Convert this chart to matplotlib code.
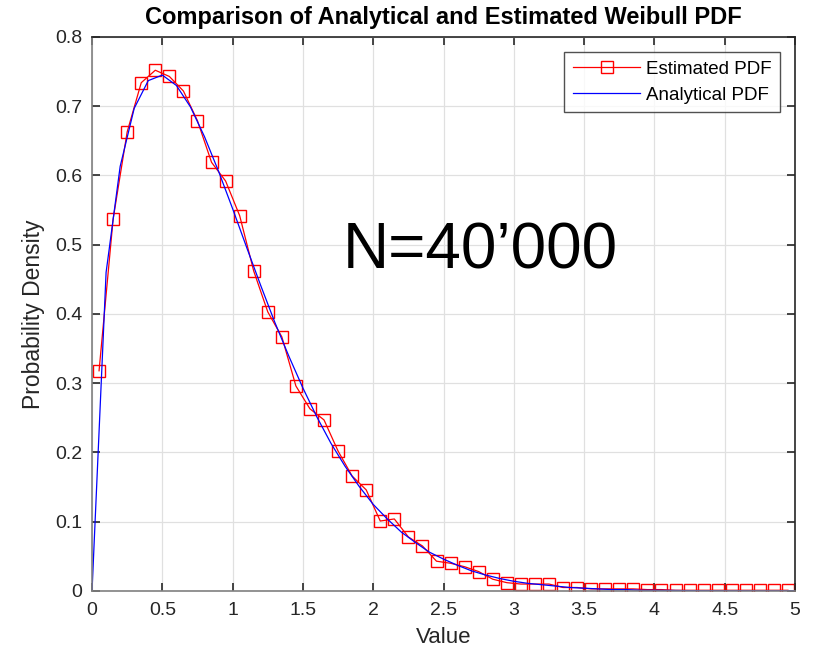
import matplotlib
matplotlib.use("Agg")
import matplotlib.pyplot as plt

# Estimated PDF (histogram bin centres, width 0.1)
est_x = [0.05, 0.15, 0.25, 0.35, 0.45, 0.55, 0.65, 0.75, 0.85, 0.95,
         1.05, 1.15, 1.25, 1.35, 1.45, 1.55, 1.65, 1.75, 1.85, 1.95,
         2.05, 2.15, 2.25, 2.35, 2.45, 2.55, 2.65, 2.75, 2.85, 2.95,
         3.05, 3.15, 3.25, 3.35, 3.45, 3.55, 3.65, 3.75, 3.85, 3.95,
         4.05, 4.15, 4.25, 4.35, 4.45, 4.55, 4.65, 4.75, 4.85, 4.95]
est_y = [0.318, 0.537, 0.663, 0.734, 0.752, 0.743, 0.722, 0.679, 0.619, 0.592,
         0.542, 0.462, 0.403, 0.367, 0.296, 0.263, 0.247, 0.202, 0.166, 0.146,
         0.101, 0.104, 0.078, 0.065, 0.043, 0.040, 0.035, 0.028, 0.017, 0.012,
         0.010, 0.010, 0.010, 0.005, 0.005, 0.003, 0.003, 0.003, 0.003, 0.002,
         0.002, 0.001, 0.001, 0.001, 0.001, 0.001, 0.001, 0.001, 0.001, 0.001]

# Analytical PDF sampled every 0.1
ana_x = [0.0, 0.1, 0.2, 0.3, 0.4, 0.5, 0.6, 0.7, 0.8, 0.9,
         1.0, 1.1, 1.2, 1.3, 1.4, 1.5, 1.6, 1.7, 1.8, 1.9,
         2.0, 2.1, 2.2, 2.3, 2.4, 2.5, 2.6, 2.7, 2.8, 2.9,
         3.0, 3.1, 3.2, 3.3, 3.4, 3.5, 3.6, 3.7, 3.8, 3.9,
         4.0, 4.1, 4.2, 4.3, 4.4, 4.5, 4.6, 4.7, 4.8, 4.9, 5.0]
ana_y = [0.0, 0.460, 0.613, 0.697, 0.737, 0.745, 0.730, 0.699, 0.656, 0.606,
         0.552, 0.496, 0.441, 0.388, 0.339, 0.293, 0.251, 0.213, 0.180, 0.151,
         0.125, 0.104, 0.085, 0.070, 0.056, 0.046, 0.037, 0.029, 0.023, 0.018,
         0.014, 0.011, 0.009, 0.007, 0.005, 0.004, 0.003, 0.002, 0.002, 0.001,
         0.001, 0.0008, 0.0006, 0.0004, 0.0003, 0.0002, 0.0002, 0.0001, 0.0001,
         0.0001, 0.0]

x_ticks = [0, 0.5, 1, 1.5, 2, 2.5, 3, 3.5, 4, 4.5, 5]
x_tick_labels = ["0", "0.5", "1", "1.5", "2", "2.5", "3", "3.5", "4", "4.5", "5"]
y_ticks = [0, 0.1, 0.2, 0.3, 0.4, 0.5, 0.6, 0.7, 0.8]
y_tick_labels = ["0", "0.1", "0.2", "0.3", "0.4", "0.5", "0.6", "0.7", "0.8"]

plt.rcParams["font.family"] = ["Liberation Sans", "DejaVu Sans"]

fig = plt.figure(figsize=(8.13, 6.57), dpi=100)
ax = fig.add_axes([0.1132, 0.1005, 0.8647, 0.8432])

ax.plot(est_x, est_y, color="red", linewidth=0.9, marker="s", markersize=8,
        markerfacecolor="none", markeredgecolor="red", markeredgewidth=1.0,
        label="Estimated PDF")
ax.plot(ana_x, ana_y, color="blue", linewidth=0.9, label="Analytical PDF")

ax.set_xlim(0, 5)
ax.set_ylim(0, 0.8)
ax.set_xticks(x_ticks)
ax.set_xticklabels(x_tick_labels)
ax.set_yticks(y_ticks)
ax.set_yticklabels(y_tick_labels)
ax.tick_params(direction="in", length=6, width=1.2, labelsize=14, colors="#262626",
               top=True, right=True)
ax.tick_params(axis="x", pad=8)
ax.tick_params(axis="y", pad=7)
ax.grid(True, color="#e0e0e0", linewidth=0.9)
ax.set_axisbelow(True)
for side in ["left", "bottom"]:
    ax.spines[side].set_color("#808080")
    ax.spines[side].set_linewidth(1.2)
for side in ["top", "right"]:
    ax.spines[side].set_color("#262626")
    ax.spines[side].set_linewidth(1.2)

ax.set_xlabel("Value", fontsize=16, color="#262626", labelpad=6)
ax.set_ylabel("Probability Density", fontsize=16.5, color="#262626", labelpad=7)
ax.set_title("Comparison of Analytical and Estimated Weibull PDF",
             fontsize=17, fontweight="bold", pad=9)

ax.text(2.76, 0.49, "N=40\u2019000", fontsize=46, ha="center", va="center")

leg = ax.legend(loc="upper right", fontsize=13.5, frameon=True, fancybox=False,
                edgecolor="#262626", handlelength=3.6, handletextpad=0.3,
                borderaxespad=0.8, borderpad=0.45, labelspacing=0.5)
leg.get_frame().set_linewidth(1.0)

fig.savefig("out.png", dpi=100)
